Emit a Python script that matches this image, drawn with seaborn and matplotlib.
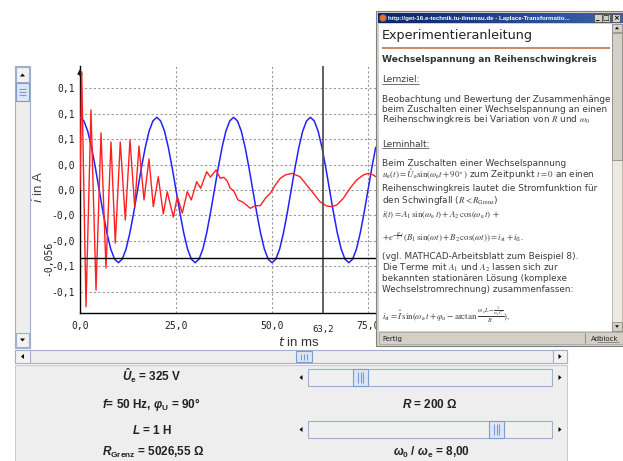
import numpy as np
import pandas as pd
import matplotlib
matplotlib.use("Agg")
import matplotlib.pyplot as plt
import seaborn as sns
from matplotlib.patches import Rectangle, Polygon, Circle
from matplotlib.colors import LinearSegmentedColormap

# ---------------- data ----------------
# red: current i(t) in A, t in ms
red_t = [0.0, 0.44, 1.56, 2.86, 4.17, 5.47, 6.77, 8.07, 9.19, 10.49, 11.80, 13.02,
         14.24, 15.36, 16.67, 17.97, 19.09, 20.39, 21.69, 22.73, 24.30, 25.34, 26.64,
         27.94, 28.98, 30.39, 31.43, 32.99, 33.98, 35.42, 36.54, 37.42, 38.28, 39.14,
         40.03, 41.15, 42.19, 43.05, 44.35, 45.65, 46.95, 48.26, 49.56, 50.86, 52.16,
         53.46, 55.21, 57.29, 59.04, 60.76, 62.50, 64.24, 65.55, 66.85, 68.57, 70.31,
         72.04, 73.78, 75.08, 76.38, 77.27]
red_i = [0.0, 0.1161, -0.1148, 0.0787, -0.0984, 0.0561, -0.0768, 0.0472, -0.0522, 0.0472,
         -0.0295, 0.0492, -0.0167, 0.0433, -0.0098, 0.0305, -0.0164, 0.0131, -0.0236,
         -0.0017, -0.0266, -0.0066, -0.0226, -0.0017, -0.0098, 0.0082, 0.0017, 0.0180,
         0.0128, 0.0197, 0.0115, 0.0125, 0.0092, 0.0017, -0.0007, -0.0098, -0.0115,
         -0.0138, -0.0180, -0.0154, -0.0154, -0.0082, -0.0032, 0.0049, 0.0115, 0.0148,
         0.0164, 0.0131, 0.0049, -0.0032, -0.0115, -0.0157, -0.0164, -0.0148, -0.0082,
         0.0017, 0.0098, 0.0148, 0.0164, 0.0148, 0.0125]

# blue: scaled supply voltage, sampled every 1 ms
blue_t = list(range(0, 78))
blue_i = [0.0715, 0.068, 0.058, 0.042, 0.022, 0.0, -0.022, -0.042, -0.058, -0.068,
          -0.0715, -0.068, -0.058, -0.042, -0.022, 0.0, 0.022, 0.042, 0.058, 0.068,
          0.0715, 0.068, 0.058, 0.042, 0.022, 0.0, -0.022, -0.042, -0.058, -0.068,
          -0.0715, -0.068, -0.058, -0.042, -0.022, 0.0, 0.022, 0.042, 0.058, 0.068,
          0.0715, 0.068, 0.058, 0.042, 0.022, 0.0, -0.022, -0.042, -0.058, -0.068,
          -0.0715, -0.068, -0.058, -0.042, -0.022, 0.0, 0.022, 0.042, 0.058, 0.068,
          0.0715, 0.068, 0.058, 0.042, 0.022, 0.0, -0.022, -0.042, -0.058, -0.068,
          -0.0715, -0.068, -0.058, -0.042, -0.022, 0.0, 0.022, 0.042]

x_ticks = [0, 25, 50, 75]
x_tick_labels = ["0,0", "25,0", "50,0", "75,0"]
y_ticks = [0.1, 0.075, 0.05, 0.025, 0.0, -0.025, -0.05, -0.075, -0.1]
y_tick_labels = ["0,1", "0,1", "0,1", "0,0", "0,0", "-0,0", "-0,0", "-0,1", "-0,1"]
cursor_t = 63.2
cursor_t_label = "63,2"
cursor_i = -0.0672
cursor_i_label = "-0,056"

# ---------------- style ----------------
sns.set_theme(style="white")
plt.rcParams["font.family"] = ["DejaVu Sans"]
plt.rcParams["mathtext.fontset"] = "custom"
plt.rcParams["mathtext.rm"] = "Liberation Sans:bold"
plt.rcParams["mathtext.it"] = "Liberation Sans:italic:bold"
plt.rcParams["mathtext.bf"] = "Liberation Sans:bold"

W, H = 623, 461
fig = plt.figure(figsize=(W / 100, H / 100), dpi=100, facecolor="white")


def px_ax(x0, y0, x1, y1):
    return [x0 / W, 1 - y1 / H, (x1 - x0) / W, (y1 - y0) / H]


# ---------------- main chart ----------------
ax = fig.add_axes(px_ax(80, 66, 380, 313))
ax.set_zorder(1)
ax.set_facecolor("white")
df_blue = pd.DataFrame({"t": blue_t, "i": blue_i})
df_red = pd.DataFrame({"t": red_t, "i": red_i})
sns.lineplot(data=df_blue, x="t", y="i", color="#2222ff", lw=1.1, ax=ax,
             sort=False, estimator=None, zorder=3)
sns.lineplot(data=df_red, x="t", y="i", color="#ff2020", lw=1.0, ax=ax,
             sort=False, estimator=None, zorder=4)
ax.set_xlim(0, 78.125)
ax.set_ylim(-0.1210, 0.1220)
ax.set_xticks(x_ticks)
ax.set_xticklabels(x_tick_labels, family="DejaVu Sans Mono", fontsize=7, color="#222")
ax.set_yticks(y_ticks)
ax.set_yticklabels(y_tick_labels, family="DejaVu Sans Mono", fontsize=7, color="#222")
ax.tick_params(axis="y", direction="out", length=3, width=0.8, pad=0.5, color="k")
ax.tick_params(axis="x", direction="out", length=4, width=0.8, pad=1.5, color="k")
ax.grid(True, color="#9a9a9a", linestyle=(0, (2, 2)), lw=0.8)
ax.set_xlabel("")
ax.set_ylabel("")
for s in ["top", "right"]:
    ax.spines[s].set_visible(False)
for s in ["left", "bottom"]:
    ax.spines[s].set_color("black")
    ax.spines[s].set_linewidth(1.0)
ax.axvline(cursor_t, color="#555555", lw=1.3, zorder=5)
ax.axhline(cursor_i, color="black", lw=1.0, zorder=5)
ax.annotate("", xy=(0, 1.0), xycoords="axes fraction", xytext=(0, 0.95),
            arrowprops=dict(arrowstyle="-|>", color="k", lw=1, mutation_scale=7),
            annotation_clip=False)

# ---------------- overlay (GUI chrome) ----------------
ov = fig.add_axes([0, 0, 1, 1])
ov.set_zorder(10)
ov.patch.set_alpha(0)
ov.axis("off")


def rect(x0, y0, x1, y1, fc, ec="none", lw=0.8, z=2):
    ov.add_patch(Rectangle((x0, y0), x1 - x0, y1 - y0, facecolor=fc, edgecolor=ec,
                           linewidth=lw, zorder=z))


def tri(cx, cy, d, s=2.5, z=4, c="black"):
    if d == "up":
        pts = [(cx - s, cy + s * 0.6), (cx + s, cy + s * 0.6), (cx, cy - s * 0.6)]
    elif d == "down":
        pts = [(cx - s, cy - s * 0.6), (cx + s, cy - s * 0.6), (cx, cy + s * 0.6)]
    elif d == "left":
        pts = [(cx + s * 0.6, cy - s), (cx + s * 0.6, cy + s), (cx - s * 0.6, cy)]
    else:
        pts = [(cx - s * 0.6, cy - s), (cx - s * 0.6, cy + s), (cx + s * 0.6, cy)]
    ov.add_patch(Polygon(pts, closed=True, facecolor=c, edgecolor="none", zorder=z))


def line(xs, ys, c, lw=0.8, z=3):
    ov.plot(xs, ys, color=c, lw=lw, zorder=z, solid_capstyle="butt")


BORDER = "#9fb0cc"
THUMB = "#dce6f4"
THUMB_E = "#7a9cd0"
PANEL = "#eeeeee"

# axis labels of the chart
ov.text(38, 187, r"$i$ in A", rotation=90, ha="center", va="center", fontsize=9.5,
        color="#444", family="Liberation Sans", math_fontfamily="dejavusans")
ov.text(299, 342.5, r"$t$ in ms", ha="center", va="center", fontsize=9.5,
        color="#333", family="Liberation Sans", math_fontfamily="dejavusans")
ov.text(48, 258, cursor_i_label, rotation=90, ha="center", va="center", fontsize=7,
        family="DejaVu Sans Mono", color="#222")
ov.text(323, 329, cursor_t_label, ha="center", va="center", fontsize=6.5,
        family="DejaVu Sans Mono", color="#222")

# left vertical scrollbar
rect(15, 66, 30, 348, PANEL, BORDER)
rect(16, 67, 29, 82, "#f2f2f2", BORDER, z=3)
tri(22.5, 75, "up")
rect(16, 83, 29, 101, THUMB, THUMB_E, z=3)
for yy in (89, 92, 95):
    line([19, 26], [yy, yy], THUMB_E)
rect(16, 333, 29, 347, "#f2f2f2", BORDER, z=3)
tri(22.5, 340, "down")

# horizontal scrollbar
rect(15, 350, 567, 363, PANEL, BORDER)
rect(15, 350, 30, 363, "#f2f2f2", BORDER, z=3)
tri(22.5, 356.5, "left")
rect(553, 350, 567, 363, "#f2f2f2", BORDER, z=3)
tri(560, 356.5, "right")
rect(296, 351, 312, 362, THUMB, THUMB_E, z=3)
for xx in (301, 304, 307):
    line([xx, xx], [353.5, 359.5], THUMB_E)

# bottom panel
rect(15, 365, 567, 462, PANEL, "#c4ccd8")
for (ys, thumb_x) in ((368, 353), (420, 489)):
    rect(295, ys, 567, ys + 19, PANEL, "none", z=3)
    rect(308, ys + 1, 552, ys + 18, "#f0f0f0", BORDER, z=3)
    rect(295, ys, 308, ys + 19, PANEL, "none", z=3)
    tri(301, ys + 9.5, "left")
    rect(553, ys, 567, ys + 19, PANEL, "none", z=3)
    tri(560, ys + 9.5, "right")
    rect(thumb_x, ys + 1, thumb_x + 15, ys + 18, THUMB, THUMB_E, z=4)
    for xx in (thumb_x + 5, thumb_x + 7.5, thumb_x + 10):
        line([xx, xx], [ys + 4, ys + 15], THUMB_E, z=5)

ptxt = dict(ha="center", va="center", fontsize=8.5, family="Liberation Sans",
            weight="bold", color="#222")
ov.text(152, 376, r"$\hat{U}_\mathrm{e}$ = 325 V", **ptxt)
ov.text(151, 404, r"$f$= 50 Hz, $\varphi_\mathrm{U}$ = 90°", **ptxt)
ov.text(152, 430, r"$L$ = 1 H", **ptxt)
ov.text(153, 452, r"$R_\mathrm{Grenz}$ = 5026,55 Ω", **ptxt)
ov.text(430, 404, r"$R$ = 200 Ω", **ptxt)
ov.text(432, 452, r"$\omega_0$ / $\omega_\mathrm{e}$ = 8,00", **ptxt)

# ---------------- popup window ----------------
rect(376, 11, 625, 346, "#d4d0c8", "#808080", lw=0.8, z=6)
cmap = LinearSegmentedColormap.from_list("tb", ["#0a246a", "#3c64ac"])
ov.imshow(np.linspace(0, 1, 200)[None, :], cmap=cmap, extent=(378, 623, 23, 13),
          aspect="auto", zorder=7)
ov.add_patch(Circle((383, 18), 3.6, facecolor="#e8731c", edgecolor="#3050a0", lw=0.6, zorder=8))
ov.text(388, 18.3, "http://get-16.e-technik.tu-ilmenau.de - Laplace-Transformatio...",
        color="white", fontsize=4.4, weight="bold", family="Liberation Sans",
        va="center", ha="left", zorder=8)
for bx, g in ((594, "_"), (602, "□"), (612, "×")):
    rect(bx, 14, bx + 8, 22, "#d4d0c8", "#404040", lw=0.5, z=8)
    ov.text(bx + 4, 18, g, fontsize=5, ha="center", va="center", color="black",
            family="DejaVu Sans", zorder=9, weight="bold")

rect(379, 24, 612, 331, "white", "none", z=7)
# popup scrollbar
rect(612, 24, 622, 331, "#ece9e0", "#b0aca4", lw=0.5, z=7)
rect(612, 24, 622, 32, "#d4d0c8", "#808080", lw=0.5, z=8)
tri(617, 28, "up", s=2, z=9)
rect(612, 33, 622, 160, "#d4d0c8", "#808080", lw=0.5, z=8)
rect(612, 322, 622, 331, "#d4d0c8", "#808080", lw=0.5, z=8)
tri(617, 326.5, "down", s=2, z=9)
# status bar
rect(379, 332, 623, 344, "#d4d0c8", "#a0a0a0", lw=0.5, z=7)
line([585, 585], [333, 343], "#909090", z=8)
ov.text(382, 338.5, "Fertig", fontsize=5, family="DejaVu Sans", va="center", ha="left",
        color="#222", zorder=9)
ov.text(619, 338.5, "Adblock", fontsize=5, family="DejaVu Sans", va="center", ha="right",
        color="#222", zorder=9)
line([597, 619], [342, 342], "#555", lw=0.4, z=9)

# popup contents
ov.text(382, 35, "Experimentieranleitung", fontsize=9.2, family="DejaVu Sans",
        color="#222", va="center", ha="left", zorder=9)
line([382, 610], [47.7, 47.7], "#c8704a", lw=1.2, z=9)
ov.text(382, 60, "Wechselspannung an Reihenschwingkreis", fontsize=6.6,
        family="DejaVu Sans", weight="bold", color="#333", va="center", ha="left", zorder=9)

body = dict(fontsize=6.4, family="DejaVu Sans", color="#3a3a3a", va="center", ha="left",
            zorder=9, math_fontfamily="stix")
ov.text(382, 80, "Lernziel:", **body)
line([382, 419], [84.5, 84.5], "#3a3a3a", lw=0.5, z=9)
ov.text(382, 99, "Beobachtung und Bewertung der Zusammenhänge", **body)
ov.text(382, 109, "beim Zuschalten einer Wechselspannung an einen", **body)
ov.text(382, 119.5, r"Reihenschwingkreis bei Variation von $R$ und $\omega_0$", **body)
ov.text(382, 144, "Lerninhalt:", **body)
line([382, 429], [148.5, 148.5], "#3a3a3a", lw=0.5, z=9)
ov.text(382, 163, "Beim Zuschalten einer Wechselspannung", **body)
ov.text(382, 174.5, r"$u_\mathrm{e}(t) = \hat{U}_\mathrm{e}\sin(\omega_\mathrm{e}t + 90^\circ)$"
        r" zum Zeitpunkt $t = 0$ an einen", **body)
ov.text(382, 188, "Reihenschwingkreis lautet die Stromfunktion für", **body)
ov.text(382, 200, r"den Schwingfall ($R < R_\mathrm{Grenz}$)", **body)
ov.text(382, 215.5, r"$i(t) = A_1\,\sin(\omega_\mathrm{e}\,t) + A_2\,\cos(\omega_\mathrm{e}\,t)\, +$",
        **body)
ov.text(382, 237, r"$+e^{-\frac{R}{L}t}\,(B_1\,\sin(\omega t) + B_2\,\cos(\omega t)) = "
        r"i_\mathrm{st} + i_\mathrm{fl}.$", **body)
ov.text(382, 256, "(vgl. MATHCAD-Arbeitsblatt zum Beispiel 8).", **body)
ov.text(382, 267.5, r"Die Terme mit $A_1$ und $A_2$ lassen sich zur", **body)
ov.text(382, 278.5, "bekannten stationären Lösung (komplexe", **body)
ov.text(382, 289.5, "Wechselstromrechnung) zusammenfassen:", **body)
ov.text(382, 315, r"$i_\mathrm{st} = \hat{I}\,\sin(\omega_\mathrm{e}\,t + \varphi_u - "
        r"\arctan\,\frac{\omega_\mathrm{e}L - \frac{1}{\omega_\mathrm{e}C}}{R}),$", **body)

ov.set_xlim(0, W)
ov.set_ylim(H, 0)

fig.savefig("out.png", dpi=100, facecolor="white")
